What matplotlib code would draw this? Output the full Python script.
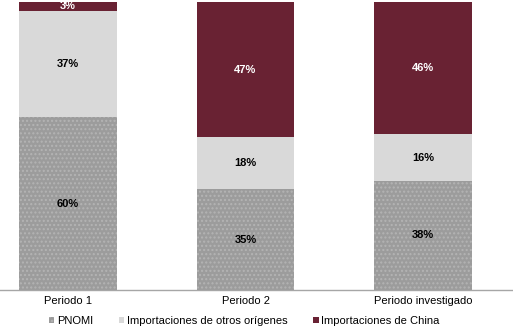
import matplotlib
matplotlib.use("Agg")
import matplotlib.pyplot as plt
import numpy as np

plt.rcParams['font.family'] = ['Liberation Sans', 'DejaVu Sans']
plt.rcParams['hatch.linewidth'] = 1.0

categories = ["Periodo 1", "Periodo 2", "Periodo investigado"]
pnomi = [60, 35, 38]
otros = [37, 18, 16]
china = [3, 47, 46]
series_names = ["PNOMI", "Importaciones de otros orígenes", "Importaciones de China"]

c_pnomi = "#9c9c9c"
c_otros = "#d9d9d9"
c_china = "#692233"

fig = plt.figure(figsize=(5.13, 3.28), dpi=100)
ax = fig.add_axes([0, 1 - 290 / 328, 1, 288 / 328])

x = np.arange(len(categories))
w = 0.55
b1 = ax.bar(x, pnomi, w, color=c_pnomi, edgecolor="#b4b4b4", hatch="....", linewidth=0, label=series_names[0])
b2 = ax.bar(x, otros, w, bottom=pnomi, color=c_otros, linewidth=0, label=series_names[1])
bot3 = [a + b for a, b in zip(pnomi, otros)]
b3 = ax.bar(x, china, w, bottom=bot3, color=c_china, linewidth=0, label=series_names[2])

for i in range(len(categories)):
    ax.text(x[i], pnomi[i] / 2, f"{pnomi[i]}%", ha="center", va="center", fontsize=8, fontweight="bold", color="black")
    ax.text(x[i], pnomi[i] + otros[i] / 2, f"{otros[i]}%", ha="center", va="center", fontsize=8, fontweight="bold", color="black")
    ax.text(x[i], bot3[i] + china[i] / 2, f"{china[i]}%", ha="center", va="center", fontsize=8, fontweight="bold", color="white")

xmin = -68 / 177.5
ax.set_xlim(xmin, xmin + 513 / 177.5)
ax.set_ylim(0, 100)
for s in ["top", "right", "left"]:
    ax.spines[s].set_visible(False)
ax.spines["bottom"].set_color("#a6a6a6")
ax.spines["bottom"].set_linewidth(1)
ax.set_yticks([])
ax.set_xticks(x)
ax.set_xticklabels(categories, fontsize=8)
ax.tick_params(axis="x", length=0, pad=4)

leg = fig.legend(handles=[b1, b2, b3], labels=series_names, loc="center", bbox_to_anchor=(0.476, 1 - 321 / 328),
                 ncol=3, frameon=False, fontsize=8, handlelength=0.5, handleheight=0.5, handletextpad=0.25,
                 columnspacing=2.3)

fig.savefig("out.png", dpi=100)
